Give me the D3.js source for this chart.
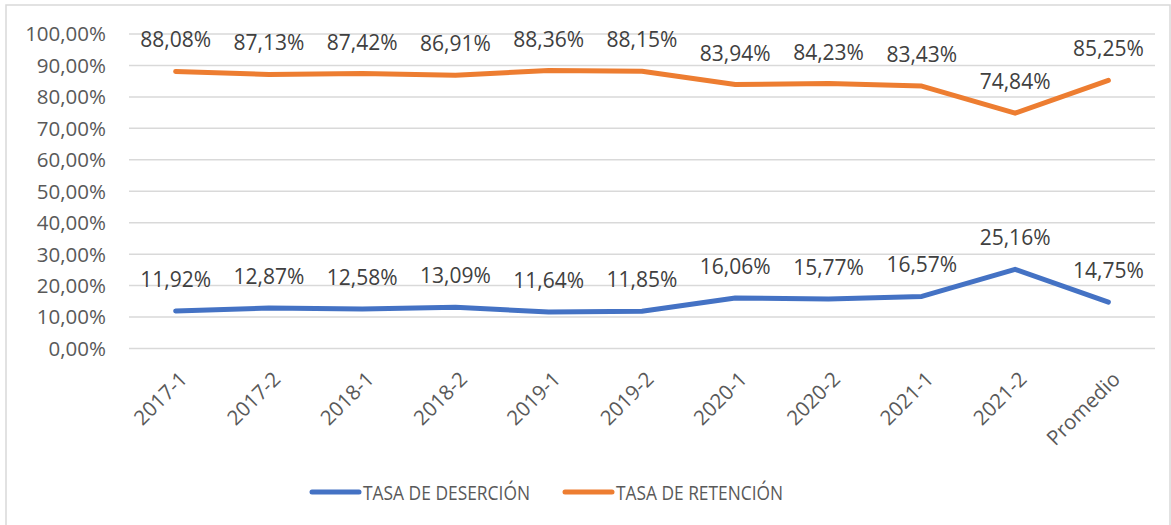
<!DOCTYPE html>
<html>
<head>
<meta charset="utf-8">
<script src="https://cdn.jsdelivr.net/npm/d3@7"></script>
<style>
  body { margin: 0; background: #fff; }
  svg { font-family: "Open Sans", sans-serif; }
  .grid line { stroke: #d9d9d9; stroke-width: 1.5; }
  .axis-y text, .axis-x text { fill: #595959; font-size: 20.5px; }
  .lbl { fill: #404040; font-size: 21px; text-anchor: middle; }
  .legend text { fill: #595959; font-size: 20px; }
</style>
</head>
<body>
<div id="chart"></div>
<script>
var categories = ["2017-1", "2017-2", "2018-1", "2018-2", "2019-1", "2019-2", "2020-1", "2020-2", "2021-1", "2021-2", "Promedio"];
var desercion = [11.92, 12.87, 12.58, 13.09, 11.64, 11.85, 16.06, 15.77, 16.57, 25.16, 14.75];
var retencion = [88.08, 87.13, 87.42, 86.91, 88.36, 88.15, 83.94, 84.23, 83.43, 74.84, 85.25];
var yTicks = [0, 10, 20, 30, 40, 50, 60, 70, 80, 90, 100];
var seriesNames = ["TASA DE DESERCIÓN", "TASA DE RETENCIÓN"];
var colors = ["#4472c4", "#ed7d31"];

var width = 1171, height = 525;
var plotLeft = 129, plotRight = 1155, plotTop = 34, plotBottom = 348.5;

var svg = d3.select('#chart')
          .append('svg')
          .attr('width', width)
          .attr('height', height);

// chart border (bottom edge sits at the page edge)
svg.append("rect")
   .attr("x", 6).attr("y", 5)
   .attr("width", 1164).attr("height", 522)
   .attr("fill", "#fff")
   .attr("stroke", "#d9d9d9")
   .attr("stroke-width", 1.5);

var locale = d3.formatLocale({decimal: ",", thousands: ".", grouping: [3], currency: ["", "€"]});
var pct = function(v) { return locale.format(".2f")(v) + "%"; };

var x = d3.scaleBand().domain(categories).range([plotLeft, plotRight]);
var y = d3.scaleLinear().domain([0, 100]).range([plotBottom, plotTop]);
var cx = function(i) { return x(categories[i]) + x.bandwidth() / 2; };

// gridlines
svg.append("g").attr("class", "grid")
   .selectAll("line")
   .data(yTicks)
   .enter().append("line")
   .attr("x1", plotLeft).attr("x2", plotRight)
   .attr("y1", function(d) { return y(d); })
   .attr("y2", function(d) { return y(d); });

// y axis labels
svg.append("g").attr("class", "axis-y")
   .selectAll("text")
   .data(yTicks)
   .enter().append("text")
   .attr("x", 106)
   .attr("y", function(d) { return y(d); })
   .attr("dy", "0.36em")
   .attr("text-anchor", "end")
   .text(function(d) { return pct(d); });

// x axis labels
svg.append("g").attr("class", "axis-x")
   .selectAll("text")
   .data(categories)
   .enter().append("text")
   .attr("text-anchor", "end")
   .attr("transform", function(d, i) {
     return "translate(" + (cx(i) + 13) + "," + (plotBottom + 32) + ") rotate(-45)";
   })
   .text(function(d) { return d; });

var line = d3.line()
             .x(function(d, i) { return cx(i); })
             .y(function(d) { return y(d); });

[desercion, retencion].forEach(function(values, k) {
  svg.append("path")
     .attr("d", line(values))
     .attr("fill", "none")
     .attr("stroke", colors[k])
     .attr("stroke-width", 5)
     .attr("stroke-linejoin", "round")
     .attr("stroke-linecap", "round");

  svg.append("g").selectAll("text")
     .data(values)
     .enter().append("text")
     .attr("class", "lbl")
     .attr("x", function(d, i) { return cx(i); })
     .attr("y", function(d) { return y(d) - 24; })
     .text(function(d) { return pct(d); });
});

// legend
var legendX = [312, 565];
var legend = svg.append("g").attr("class", "legend");
seriesNames.forEach(function(name, k) {
  legend.append("line")
        .attr("x1", legendX[k]).attr("x2", legendX[k] + 47)
        .attr("y1", 492).attr("y2", 492)
        .attr("stroke", colors[k])
        .attr("stroke-width", 5)
        .attr("stroke-linecap", "round");
  legend.append("text")
        .attr("x", legendX[k] + 51)
        .attr("y", 499.5)
        .attr("textLength", 167)
        .attr("lengthAdjust", "spacingAndGlyphs")
        .text(name);
});
</script>
</body>
</html>
